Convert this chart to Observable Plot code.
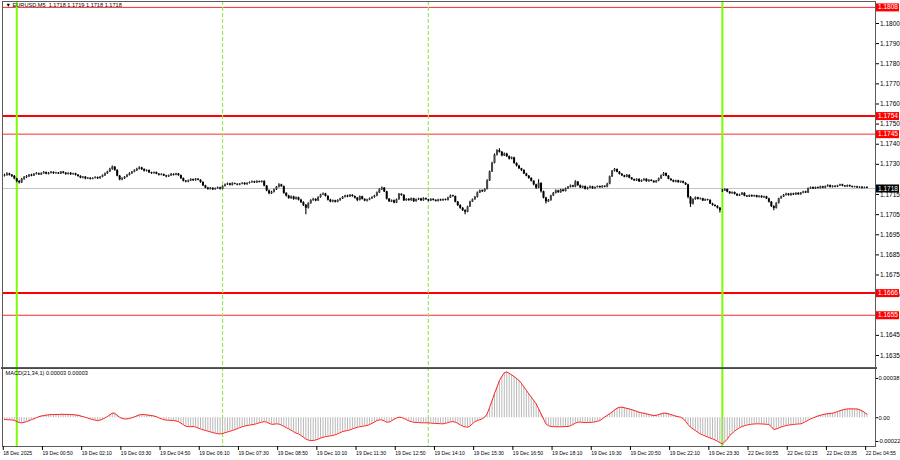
<!DOCTYPE html>
<html>
<head>
<meta charset="utf-8">
<script src="https://cdn.jsdelivr.net/npm/d3@7"></script>
<script src="https://cdn.jsdelivr.net/npm/@observablehq/plot@0.6"></script>
<style>
  html, body { margin: 0; padding: 0; background: #fff; }
  #chart { position: relative; width: 900px; height: 460px; background: #fff; overflow: hidden; }
  #chart svg { position: absolute; left: 0; }
</style>
</head>
<body>
<div id="chart"></div>
<script>
// ---- data (prices in pips above 1.1700, M5 bars, index 0 = 18 Dec 23:35) ----
const symbolTitle = "▼ EURUSD,M5  1.1718 1.1719 1.1718 1.1718";
const macdTitle = "MACD(21,34,1) 0.00003 0.00003";

const open = [
24.2,24.5,25.2,24.6,24.0,22.8,21.5,20.8,22.6,23.4,
23.9,24.6,24.2,25.0,25.3,24.8,25.4,25.9,25.1,25.5,
26.0,25.4,25.7,25.2,26.1,25.6,25.0,25.5,24.9,25.3,
24.6,24.0,23.2,23.6,22.8,23.1,22.6,23.0,23.4,22.9,
23.6,24.4,25.3,26.2,27.5,28.6,27.0,24.1,22.3,22.8,
23.6,24.5,25.3,26.1,26.8,27.6,28.2,27.4,26.6,26.9,
25.8,25.4,25.9,25.1,24.6,24.9,24.2,23.8,24.3,25.0,
24.6,25.2,24.4,22.9,21.6,21.2,21.8,22.4,21.9,22.6,
22.1,21.0,19.3,18.2,17.6,18.1,17.4,17.9,18.3,17.7,
19.0,19.8,20.3,19.6,20.4,20.1,19.7,20.2,20.6,19.9,
20.5,20.9,21.3,20.8,21.4,21.0,21.5,19.2,16.8,15.4,
16.1,17.3,18.6,19.8,18.9,15.6,14.2,13.0,13.8,12.6,
13.4,12.2,11.0,9.6,8.2,10.5,12.0,12.6,11.8,13.5,
14.8,15.3,14.1,12.2,11.3,11.9,11.2,12.0,12.8,13.6,
14.3,13.8,14.6,14.0,13.2,12.1,13.9,12.6,11.8,12.3,
12.9,13.5,14.2,15.8,17.4,18.2,16.3,12.7,11.4,11.9,
10.8,12.4,15.1,14.6,11.9,12.6,12.0,12.9,11.5,12.4,
12.8,11.9,13.0,12.4,11.8,12.6,12.1,11.6,12.3,11.9,
12.5,12.1,13.3,14.4,14.0,11.2,9.5,8.1,7.0,6.2,
8.8,11.3,12.4,13.6,15.8,16.9,16.4,17.5,21.8,26.2,
30.5,34.6,36.8,36.0,34.2,35.1,33.8,32.6,33.2,30.4,
29.1,27.8,26.9,25.2,24.1,23.0,21.6,19.8,18.2,20.5,
16.4,13.2,11.4,12.0,14.3,15.6,16.8,15.9,17.2,16.5,
17.8,18.6,19.3,18.7,21.2,19.4,18.3,18.9,17.6,18.2,
18.8,17.9,18.5,19.0,18.4,19.1,18.7,20.2,23.8,26.6,
27.4,26.1,25.0,24.3,23.6,24.5,23.2,22.4,21.8,22.5,
21.3,21.9,22.6,21.4,22.1,21.6,20.9,21.7,22.8,24.3,
25.4,24.1,22.6,21.9,21.2,21.8,20.9,21.4,20.6,19.8,
13.6,10.2,12.5,13.4,12.6,12.9,11.8,12.4,12.1,10.3,
9.6,9.1,8.2,16.4,16.8,17.5,16.2,15.4,16.0,15.1,
14.3,14.8,15.6,14.2,13.8,14.5,13.9,14.4,13.6,14.1,
13.4,13.9,12.8,11.2,9.0,8.1,10.6,12.9,13.8,14.6,
15.2,14.5,15.3,14.8,15.6,14.9,15.7,16.3,15.8,17.9,
18.4,17.8,18.5,18.1,18.8,18.2,18.9,19.4,18.6,19.1,
18.7,19.3,19.8,19.2,18.8,19.4,18.9,18.5,18.8,18.3,
18.6,18.1,18.4];

const high = [
25.1,25.8,25.6,24.9,24.4,23.1,22.0,23.0,23.9,24.5,
25.0,25.1,25.5,25.9,25.7,25.8,26.4,26.2,25.9,26.5,
26.3,26.1,26.0,26.5,26.4,25.9,25.8,25.9,25.6,25.6,
24.9,24.3,23.9,23.9,23.5,23.4,23.3,23.8,23.7,24.0,
24.8,25.7,26.6,28.0,29.2,28.9,27.3,24.5,23.3,24.0,
24.9,25.8,26.5,27.3,28.0,28.8,28.5,27.8,27.3,27.2,
26.1,26.2,26.2,25.5,25.3,25.2,24.6,24.7,25.4,25.3,
25.6,25.5,24.7,23.2,22.0,22.2,22.8,22.7,23.0,22.9,
22.4,21.3,19.6,18.6,18.5,18.4,18.2,18.7,18.6,19.4,
20.2,20.7,20.6,20.8,20.7,20.4,20.5,20.9,20.9,20.8,
21.3,21.7,21.6,21.8,21.7,21.9,21.8,19.5,17.2,16.6,
17.7,19.0,20.3,20.1,19.2,15.9,14.6,14.3,14.1,13.8,
13.7,12.6,11.4,10.0,10.9,12.4,13.1,12.9,13.9,15.2,
15.8,15.6,14.4,12.6,12.3,12.2,12.4,13.1,14.0,14.7,
14.7,15.0,14.9,14.3,13.5,14.3,14.2,12.9,12.7,13.3,
13.9,14.6,16.2,17.9,18.8,18.5,16.6,13.0,12.3,12.3,
12.8,15.5,15.4,14.9,12.9,12.9,13.3,13.2,12.8,13.2,
13.1,13.4,13.3,12.7,12.9,12.9,12.4,12.6,12.6,12.8,
12.8,13.6,14.8,14.7,14.3,11.5,9.9,8.5,7.4,9.2,
11.7,12.8,14.0,16.2,17.3,17.3,17.9,22.3,26.7,31.0,
35.2,37.3,37.8,36.4,35.7,35.5,34.1,33.7,33.5,30.8,
29.5,28.1,27.3,25.6,24.4,23.3,21.9,20.1,22.4,20.9,
16.7,13.6,12.5,14.7,16.0,17.2,17.1,17.6,17.6,18.2,
19.0,19.7,19.6,21.8,21.5,19.7,19.3,19.2,18.6,19.2,
19.1,18.8,19.3,19.3,19.4,19.4,20.6,24.2,27.0,27.9,
27.7,26.5,25.4,24.6,24.9,24.8,23.5,22.7,22.9,22.8,
22.3,22.9,22.9,22.4,22.4,21.9,22.0,23.2,24.7,25.9,
25.7,24.4,22.9,22.2,22.1,22.1,21.7,21.7,20.9,20.1,
14.0,12.9,13.8,13.7,13.3,13.2,12.8,12.7,12.4,10.7,
9.9,9.4,8.5,17.6,17.9,17.8,16.5,16.3,16.3,15.4,
15.2,16.0,15.9,14.5,14.8,14.8,14.7,14.7,14.4,14.4,
14.2,14.2,13.1,11.5,9.4,10.9,13.2,14.2,15.0,15.6,
15.5,15.6,15.6,15.9,15.9,16.0,16.6,16.6,18.3,18.8,
18.7,18.8,18.8,19.1,19.1,19.2,19.8,19.7,19.4,19.4,
19.6,20.1,20.1,19.5,19.7,19.7,19.2,19.1,19.1,18.9,
18.9,18.7,18.9];

const low = [
23.7,24.1,24.2,23.5,22.4,20.9,20.2,20.5,22.1,23.0,
23.5,23.8,23.9,24.7,24.5,24.4,25.1,24.8,24.7,25.2,
25.0,25.1,24.9,24.9,25.2,24.6,24.7,24.5,24.6,24.2,
23.6,22.8,22.9,22.4,22.5,22.2,22.3,22.7,22.5,22.6,
23.3,24.0,25.0,25.9,27.1,26.6,23.8,21.9,21.8,22.5,
23.3,24.2,25.0,25.8,26.5,27.2,27.0,26.2,26.2,25.4,
25.0,25.1,24.8,24.2,24.3,23.9,23.4,23.5,24.0,24.2,
24.3,24.1,22.5,21.2,20.8,20.9,21.5,21.5,21.6,21.8,
20.6,19.0,17.9,17.1,17.2,17.0,17.1,17.6,17.3,17.4,
18.7,19.5,19.3,19.3,19.8,19.4,19.4,19.9,19.6,19.6,
20.2,20.6,20.5,20.5,20.7,20.7,18.9,16.4,14.9,15.0,
15.8,17.0,18.3,18.6,15.2,13.8,12.6,12.7,12.2,12.3,
11.8,10.6,9.1,5.0,7.8,10.2,11.7,11.4,11.5,13.2,
14.5,13.8,11.8,10.9,10.9,10.8,10.9,11.7,12.5,13.3,
13.4,13.5,13.7,12.8,11.4,11.8,12.3,11.4,11.3,11.9,
12.5,13.2,13.9,15.5,17.0,16.0,12.3,11.0,11.0,10.4,
10.5,12.1,14.2,11.5,11.6,11.7,11.7,11.1,11.2,12.0,
11.5,11.6,12.1,11.4,11.5,11.8,11.3,11.3,11.6,11.6,
11.8,11.8,13.0,13.7,10.9,9.1,7.7,6.6,4.9,5.9,
8.5,11.0,12.1,13.3,15.5,16.0,16.1,17.2,21.5,25.9,
30.2,34.2,35.6,33.8,33.9,33.4,32.2,32.3,30.1,28.7,
27.4,26.5,24.9,23.8,22.6,21.2,19.4,17.5,17.9,15.8,
12.8,10.3,11.0,11.7,14.0,15.3,15.6,15.6,16.2,16.2,
17.5,18.3,18.4,18.4,19.1,18.0,18.0,17.3,17.3,17.9,
17.6,17.6,18.2,18.1,18.1,18.4,18.4,19.9,23.5,26.2,
25.8,24.7,24.0,23.3,23.3,22.9,22.1,21.5,21.5,21.0,
21.0,21.6,21.1,21.1,21.3,20.6,20.6,21.4,22.5,24.0,
23.8,22.3,21.6,20.9,20.9,20.6,20.6,20.3,19.5,12.9,
8.6,9.8,12.2,12.3,12.3,11.5,11.5,11.8,10.0,9.2,
8.8,7.8,5.8,16.0,16.5,15.9,15.1,15.1,14.8,14.0,
14.0,14.5,13.9,13.5,13.5,13.6,13.6,13.3,13.3,13.1,
13.1,12.5,10.8,8.6,7.0,7.8,10.3,12.6,13.5,14.3,
14.2,14.2,14.5,14.5,14.6,14.6,15.4,15.5,15.5,17.6,
17.5,17.5,17.8,17.8,17.9,17.9,18.6,18.3,18.3,18.4,
18.4,19.0,18.9,18.5,18.5,18.6,18.2,18.2,18.0,18.0,
17.8,17.9,17.9];

const close = [
24.5,25.2,24.6,24.0,22.8,21.5,20.8,22.6,23.4,23.9,
24.6,24.2,25.0,25.3,24.8,25.4,25.9,25.1,25.5,26.0,
25.4,25.7,25.2,26.1,25.6,25.0,25.5,24.9,25.3,24.6,
24.0,23.2,23.6,22.8,23.1,22.6,23.0,23.4,22.9,23.6,
24.4,25.3,26.2,27.5,28.6,27.0,24.1,22.3,22.8,23.6,
24.5,25.3,26.1,26.8,27.6,28.2,27.4,26.6,26.9,25.8,
25.4,25.9,25.1,24.6,24.9,24.2,23.8,24.3,25.0,24.6,
25.2,24.4,22.9,21.6,21.2,21.8,22.4,21.9,22.6,22.1,
21.0,19.3,18.2,17.6,18.1,17.4,17.9,18.3,17.7,19.0,
19.8,20.3,19.6,20.4,20.1,19.7,20.2,20.6,19.9,20.5,
20.9,21.3,20.8,21.4,21.0,21.5,19.2,16.8,15.4,16.1,
17.3,18.6,19.8,18.9,15.6,14.2,13.0,13.8,12.6,13.4,
12.2,11.0,9.6,8.2,10.5,12.0,12.6,11.8,13.5,14.8,
15.3,14.1,12.2,11.3,11.9,11.2,12.0,12.8,13.6,14.3,
13.8,14.6,14.0,13.2,12.1,13.9,12.6,11.8,12.3,12.9,
13.5,14.2,15.8,17.4,18.2,16.3,12.7,11.4,11.9,10.8,
12.4,15.1,14.6,11.9,12.6,12.0,12.9,11.5,12.4,12.8,
11.9,13.0,12.4,11.8,12.6,12.1,11.6,12.3,11.9,12.5,
12.1,13.3,14.4,14.0,11.2,9.5,8.1,7.0,6.2,8.8,
11.3,12.4,13.6,15.8,16.9,16.4,17.5,21.8,26.2,30.5,
34.6,36.8,36.0,34.2,35.1,33.8,32.6,33.2,30.4,29.1,
27.8,26.9,25.2,24.1,23.0,21.6,19.8,18.2,20.5,16.4,
13.2,11.4,12.0,14.3,15.6,16.8,15.9,17.2,16.5,17.8,
18.6,19.3,18.7,21.2,19.4,18.3,18.9,17.6,18.2,18.8,
17.9,18.5,19.0,18.4,19.1,18.7,20.2,23.8,26.6,27.4,
26.1,25.0,24.3,23.6,24.5,23.2,22.4,21.8,22.5,21.3,
21.9,22.6,21.4,22.1,21.6,20.9,21.7,22.8,24.3,25.4,
24.1,22.6,21.9,21.2,21.8,20.9,21.4,20.6,19.8,13.6,
10.2,12.5,13.4,12.6,12.9,11.8,12.4,12.1,10.3,9.6,
9.1,8.2,7.0,16.8,17.5,16.2,15.4,16.0,15.1,14.3,
14.8,15.6,14.2,13.8,14.5,13.9,14.4,13.6,14.1,13.4,
13.9,12.8,11.2,9.0,8.1,10.6,12.9,13.8,14.6,15.2,
14.5,15.3,14.8,15.6,14.9,15.7,16.3,15.8,17.9,18.4,
17.8,18.5,18.1,18.8,18.2,18.9,19.4,18.6,19.1,18.7,
19.3,19.8,19.2,18.8,19.4,18.9,18.5,18.8,18.3,18.6,
18.1,18.4,18.0];

// MACD(21,34,1) main value per bar, in units of 0.00001
const macd = [
-1.5,-1.6,-1.7,-1.8,-2.2,-3.0,-4.0,-4.2,-3.8,-3.2,
-2.4,-1.6,-0.8,0.0,0.8,1.4,1.8,2.1,2.4,2.6,
2.6,2.7,2.7,2.8,2.8,2.7,2.7,2.6,2.5,2.3,
2.0,1.5,0.9,0.3,-0.3,-0.9,-1.5,-2.0,-2.3,-2.0,
-1.2,-0.2,1.0,2.4,3.8,3.6,2.0,0.4,-0.6,-1.0,
-1.0,-0.6,0.0,0.7,1.5,2.3,2.6,2.6,2.3,2.0,
1.8,1.4,0.8,0.0,-0.9,-1.6,-1.9,-2.1,-2.2,-2.3,
-2.6,-3.3,-4.4,-5.8,-7.0,-7.3,-7.3,-7.2,-7.6,-8.4,
-9.2,-9.9,-10.5,-11.0,-11.6,-12.2,-12.7,-13.1,-13.3,-13.0,
-12.3,-11.7,-11.1,-10.5,-9.8,-9.0,-8.2,-7.4,-6.8,-6.4,
-6.0,-5.8,-5.4,-4.8,-4.2,-3.6,-3.2,-3.6,-4.6,-5.4,
-5.3,-5.0,-5.2,-6.0,-7.0,-8.2,-9.1,-10.3,-11.5,-12.6,
-13.3,-14.6,-16.0,-17.5,-18.4,-18.7,-18.7,-18.3,-17.6,-16.8,
-16.0,-15.6,-15.2,-14.9,-14.6,-14.0,-13.2,-12.3,-11.4,-10.9,
-10.5,-10.0,-9.2,-8.5,-7.8,-7.4,-7.0,-6.7,-6.4,-5.6,
-4.6,-3.5,-2.4,-1.7,-1.8,-2.6,-3.7,-3.5,-2.5,-1.3,
-0.2,0.4,0.2,-0.6,-1.6,-2.5,-3.2,-3.7,-3.9,-4.0,
-4.1,-4.2,-4.2,-4.2,-4.4,-4.6,-4.7,-4.8,-4.9,-5.0,
-4.6,-4.0,-3.4,-3.2,-3.6,-4.6,-5.8,-6.8,-7.5,-7.8,
-6.8,-5.0,-3.2,-2.3,-1.6,-0.9,0.5,3.2,8.5,14.0,
20.0,25.0,30.6,34.0,36.9,37.6,36.5,35.2,33.8,32.3,
30.6,28.2,25.3,22.5,19.6,17.0,14.2,11.4,7.4,3.2,
-1.0,-5.0,-6.6,-7.2,-7.3,-7.4,-7.4,-7.4,-7.3,-7.2,
-7.2,-6.6,-5.6,-4.4,-3.7,-3.6,-3.8,-4.0,-3.9,-3.8,
-3.7,-3.4,-2.9,-2.3,-1.0,0.6,2.0,3.2,4.8,6.4,
7.8,8.6,8.6,8.2,7.7,7.2,6.6,6.0,5.3,4.5,
4.0,3.7,3.2,2.7,2.2,1.8,2.0,2.6,3.2,3.7,
3.7,3.2,2.6,2.0,1.3,0.8,0.4,-0.8,-3.0,-5.6,
-7.8,-9.2,-10.6,-12.0,-13.3,-14.2,-15.0,-15.8,-16.6,-17.4,
-18.2,-19.3,-20.5,-21.5,-19.8,-17.6,-14.6,-12.8,-11.0,-9.6,
-8.2,-7.2,-6.6,-6.0,-5.6,-5.3,-5.1,-5.0,-5.0,-5.1,
-5.2,-5.4,-5.5,-7.4,-9.7,-9.2,-8.4,-7.6,-7.0,-6.4,
-6.0,-5.8,-5.6,-5.3,-5.1,-5.0,-4.2,-3.2,-2.1,-1.0,
-0.2,0.6,1.4,2.0,2.6,3.0,3.3,3.5,3.7,4.3,
5.0,5.8,6.4,6.9,7.2,7.3,7.3,7.2,7.2,6.6,
5.6,4.4,3.0];

const priceTicks = [1.1800,1.1790,1.1780,1.1770,1.1760,1.1750,1.1740,1.1730,1.1715,1.1705,1.1695,1.1685,1.1675,1.1665,1.1645,1.1635];
const levelsBold = [1.1754, 1.1666];
const levelsThin = [1.1808, 1.1745, 1.1655];
const bidPrice = 1.1718;
const daySeparators = [5, 293];      // bar index of 19 Dec 00:00 and 22 Dec 00:05
const sessionSeparators = [89, 173]; // bar index of 19 Dec 07:00 and 14:00
const timeTickBars = [-1,15,31,47,63,79,95,111,127,143,159,175,191,207,223,239,255,271,287,303,319,335,351];
const timeLabels = ["18 Dec 2025","19 Dec 00:50","19 Dec 02:10","19 Dec 03:30","19 Dec 04:50","19 Dec 06:10","19 Dec 07:30","19 Dec 08:50","19 Dec 10:10","19 Dec 11:30","19 Dec 12:50","19 Dec 14:10","19 Dec 15:30","19 Dec 16:50","19 Dec 18:10","19 Dec 19:30","19 Dec 20:50","19 Dec 22:10","19 Dec 23:30","22 Dec 00:55","22 Dec 02:15","22 Dec 03:35","22 Dec 04:55"];
const macdTicks = [0.00038, 0, -0.00022];
const macdTickLabels = ["0.00038", "0.00", "-0.00022"];

// ---- build table ----
const BASE = 1.17, PIP = 0.0001;
const bars = close.map((c, i) => ({
  i,
  o: BASE + open[i] * PIP,
  h: BASE + high[i] * PIP,
  l: BASE + low[i] * PIP,
  c: BASE + c * PIP,
  m: macd[i] * 1e-5
}));

const STEP = 2.45, X0 = 4;
const xScale = {domain: [-1, 352], range: [X0 - STEP, X0 + 352 * STEP], axis: null, label: null};
const font = "'Liberation Sans', Arial, sans-serif";
const frameColor = "#5c5c5c";
const green = "#7cfc00";
const greenDash = "#9be85a";
const fmt4 = d3.format(".4f");

const mainPlot = Plot.plot({
  width: 900, height: 368,
  marginLeft: 2, marginRight: 25, marginTop: 1, marginBottom: 1,
  style: {fontFamily: font, fontSize: "6.5px", background: "transparent", color: "#000"},
  x: xScale,
  y: {domain: [1.1635, 1.1800], range: [355, 23], label: null},
  marks: [
    Plot.ruleY([bidPrice], {stroke: "#c4c4c4", strokeWidth: 1}),
    Plot.ruleY(levelsThin, {stroke: "#ff2a2a", strokeWidth: 1}),
    Plot.ruleY(levelsBold, {stroke: "#ff0000", strokeWidth: 2}),
    Plot.ruleX(sessionSeparators, {stroke: greenDash, strokeWidth: 1.2, strokeDasharray: "4,2"}),
    Plot.ruleX(daySeparators, {stroke: green, strokeWidth: 2}),
    Plot.ruleX(bars, {x: "i", y1: "l", y2: "h", stroke: "#000", strokeWidth: 1.1}),
    Plot.ruleX(bars, {x: "i", y1: "o", y2: "c", stroke: d => d.c >= d.o ? "#444444" : "#000000", strokeWidth: 2}),
    Plot.frame({stroke: frameColor}),
    Plot.axisY({anchor: "right", label: null, ticks: priceTicks, tickFormat: fmt4, tickSize: 3, tickPadding: 1.5, fill: "#000", stroke: "#000"}),
    Plot.ruleY([...levelsBold, ...levelsThin], {stroke: "#ff0000", strokeWidth: 8, insetLeft: 874, insetRight: -24}),
    Plot.text([...levelsBold, ...levelsThin], {y: d => d, text: d => fmt4(d), frameAnchor: "right", textAnchor: "start", dx: 2.5, fill: "#fff", fontSize: 6.5}),
    Plot.ruleY([bidPrice], {stroke: "#000", strokeWidth: 8, insetLeft: 874, insetRight: -24}),
    Plot.text([bidPrice], {y: d => d, text: d => fmt4(d), frameAnchor: "right", textAnchor: "start", dx: 2.5, fill: "#fff", fontSize: 6.5}),
    Plot.text([symbolTitle], {frameAnchor: "top-left", textAnchor: "start", lineAnchor: "top", dx: 3, dy: 2, fill: "#000", fontSize: 5.6})
  ]
});

const macdPlot = Plot.plot({
  width: 900, height: 93,
  marginLeft: 2, marginRight: 25, marginTop: 0, marginBottom: 14,
  style: {fontFamily: font, fontSize: "5.8px", background: "transparent", color: "#000"},
  x: xScale,
  y: {domain: [-0.00022, 0.00038], range: [77, 4], label: null},
  marks: [
    Plot.ruleX(sessionSeparators, {stroke: greenDash, strokeWidth: 1.2, strokeDasharray: "4,2"}),
    Plot.ruleX(daySeparators, {stroke: green, strokeWidth: 2}),
    Plot.ruleX(bars, {x: "i", y1: 0, y2: "m", stroke: "#b8b8b8", strokeWidth: 1}),
    Plot.line(bars, {x: "i", y: "m", stroke: "#ff2020", strokeWidth: 1}),
    Plot.frame({stroke: frameColor}),
    Plot.frame({anchor: "top", stroke: "#4a4a4a", strokeWidth: 3}),
    Plot.axisY([macdTicks[0]], {anchor: "right", label: null, tickFormat: () => macdTickLabels[0], tickSize: 2, tickPadding: 1, dy: 7}),
    Plot.axisY([macdTicks[1]], {anchor: "right", label: null, tickFormat: () => macdTickLabels[1], tickSize: 2, tickPadding: 1}),
    Plot.axisY([macdTicks[2]], {anchor: "right", label: null, tickFormat: () => macdTickLabels[2], tickSize: 2, tickPadding: 0, dy: -3}),
    Plot.axisX({anchor: "bottom", label: null, ticks: timeTickBars, tickFormat: d => timeLabels[timeTickBars.indexOf(d)], tickSize: 4, tickPadding: 0.5, textAnchor: "start", dx: 1.2, fontSize: 5.1, fill: "#000", stroke: "#000"}),
    Plot.text([macdTitle], {frameAnchor: "top-left", textAnchor: "start", lineAnchor: "top", dx: 3, dy: 4, fill: "#000", fontSize: 5.6})
  ]
});

const chart = document.getElementById("chart");
mainPlot.style.top = "0px";
macdPlot.style.top = "367px";
chart.appendChild(macdPlot);
chart.appendChild(mainPlot);
</script>
</body>
</html>
